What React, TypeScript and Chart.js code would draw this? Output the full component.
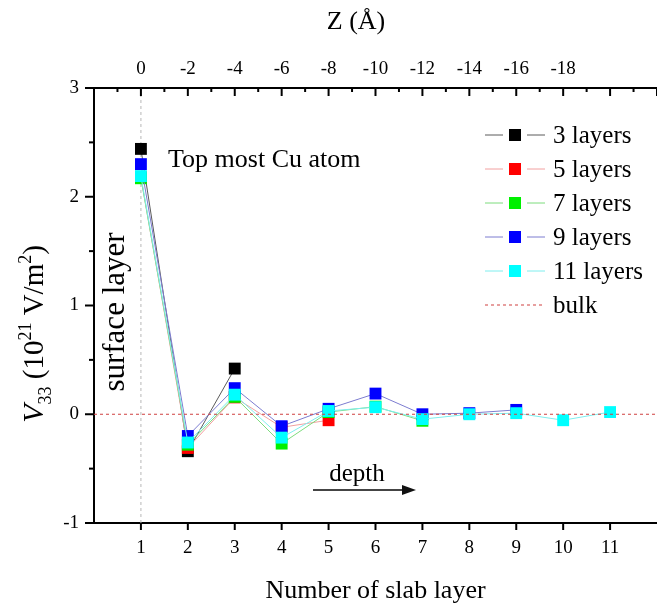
import React, { useEffect, useRef } from "react";
import { Chart, registerables } from "chart.js";

Chart.register(...registerables);

// Slab layer index (1 = top-most Cu layer)
const layers = [1, 2, 3, 4, 5, 6, 7, 8, 9, 10, 11];

const seriesNames = ["3 layers", "5 layers", "7 layers", "9 layers", "11 layers"];

// V33 per layer, in units of 10^21 V/m^2
const v3 = [2.44, -0.34, 0.42];
const v5 = [2.18, -0.31, 0.155, -0.12, -0.055];
const v7 = [2.17, -0.28, 0.16, -0.27, 0.02, 0.07, -0.06];
const v9 = [2.3, -0.2, 0.24, -0.11, 0.05, 0.19, 0.0, 0.01, 0.04];
const v11 = [2.19, -0.26, 0.18, -0.215, 0.03, 0.065, -0.045, 0.0, 0.01, -0.055, 0.02];

const bulkValue = 0;

// Axis ticks
const layerTicks = [1, 2, 3, 4, 5, 6, 7, 8, 9, 10, 11];
const depthTicks = [0, -2, -4, -6, -8, -10, -12, -14, -16, -18];
const yTickLabels = [-1, 0, 1, 2, 3];

const markerColors = ["#000000", "#ff0000", "#00f000", "#0000ff", "#00ffff"];
const lineColors = ["#5a5a5a", "#f2a0a0", "#7ddc7d", "#7c7cd0", "#7eeeee"];

const SERIF = '"Liberation Serif", "Times New Roman", serif';

const seriesValues = [v3, v5, v7, v9, v11];

const decorPlugin = {
  id: "decor",
  beforeDatasetsDraw(chart: any) {
    const { ctx, chartArea, scales } = chart;
    const x1 = scales.x.getPixelForValue(1);
    ctx.save();
    ctx.strokeStyle = "#b8b8b8";
    ctx.lineWidth = 1;
    ctx.setLineDash([3, 3]);
    ctx.beginPath();
    ctx.moveTo(x1, chartArea.top);
    ctx.lineTo(x1, chartArea.bottom);
    ctx.stroke();
    ctx.restore();
  },
  afterDraw(chart: any) {
    const { ctx, chartArea, scales, data } = chart;
    const { left, right, top, bottom } = chartArea;
    ctx.save();
    ctx.strokeStyle = "#000";
    ctx.lineWidth = 2;
    ctx.setLineDash([]);

    // left axis ticks (outward), major on integers
    const ys = scales.y;
    for (let v = ys.min; v <= ys.max + 1e-9; v += 0.5) {
      const py = ys.getPixelForValue(v);
      const len = Math.abs(v - Math.round(v)) < 1e-6 ? 9 : 5;
      ctx.beginPath();
      ctx.moveTo(left - len, py);
      ctx.lineTo(left, py);
      ctx.stroke();
    }
    // bottom axis ticks (outward)
    for (const t of layerTicks) {
      const px = scales.x.getPixelForValue(t);
      ctx.beginPath();
      ctx.moveTo(px, bottom);
      ctx.lineTo(px, bottom + 7);
      ctx.stroke();
    }
    // top axis ticks (inward), major on even Z
    const zs = scales.x2;
    for (let z = zs.max; z >= zs.min; z -= 1) {
      const px = zs.getPixelForValue(z);
      const len = z % 2 === 0 ? 8 : 4;
      ctx.beginPath();
      ctx.moveTo(px, top);
      ctx.lineTo(px, top + len);
      ctx.stroke();
    }

    // legend: line – marker – line, with small gaps around the marker
    ctx.font = `25px ${SERIF}`;
    ctx.fillStyle = "#000";
    ctx.textAlign = "left";
    ctx.textBaseline = "middle";
    let rowY = 135;
    for (const ds of data.datasets) {
      if (!ds.legendLabel) continue;
      const hasMarker = ds.pointRadius > 0;
      ctx.save();
      ctx.strokeStyle = ds.borderColor;
      ctx.lineWidth = ds.borderWidth;
      ctx.setLineDash(ds.borderDash || []);
      ctx.beginPath();
      if (hasMarker) {
        ctx.moveTo(485, rowY);
        ctx.lineTo(503, rowY);
        ctx.moveTo(527, rowY);
        ctx.lineTo(545, rowY);
      } else {
        ctx.moveTo(485, rowY);
        ctx.lineTo(545, rowY);
      }
      ctx.stroke();
      ctx.restore();
      if (hasMarker) {
        ctx.fillStyle = ds.pointBackgroundColor;
        ctx.fillRect(509, rowY - 6, 12, 12);
      }
      ctx.fillStyle = "#000";
      ctx.fillText(ds.legendLabel, 553, rowY + 1);
      rowY += 34;
    }

    // annotations
    ctx.font = `26px ${SERIF}`;
    ctx.fillText("Top most Cu atom", 168, 160);

    ctx.save();
    ctx.translate(116, 312);
    ctx.rotate(-Math.PI / 2);
    ctx.font = `31px ${SERIF}`;
    ctx.textAlign = "center";
    ctx.fillText("surface layer", 0, 0);
    ctx.restore();

    ctx.font = `25px ${SERIF}`;
    ctx.textAlign = "center";
    ctx.fillText("depth", 357, 474);

    // depth arrow
    ctx.strokeStyle = "#444";
    ctx.lineWidth = 2;
    ctx.beginPath();
    ctx.moveTo(313, 490);
    ctx.lineTo(404, 490);
    ctx.stroke();
    ctx.fillStyle = "#111";
    ctx.beginPath();
    ctx.moveTo(416, 490);
    ctx.lineTo(402, 485);
    ctx.lineTo(402, 495);
    ctx.closePath();
    ctx.fill();

    // axis titles
    ctx.fillStyle = "#000";
    ctx.font = `26px ${SERIF}`;
    ctx.textAlign = "center";
    ctx.textBaseline = "alphabetic";
    ctx.fillText("Number of slab layer", (left + right) / 2, 598);
    ctx.fillText("Z (Å)", 356, 29);

    // y title: V33 (10^21 V/m^2)
    const pieces = [
      { t: "V", f: `italic 30px ${SERIF}`, dy: 0 },
      { t: "33", f: `18px ${SERIF}`, dy: 8 },
      { t: " (10", f: `29px ${SERIF}`, dy: 0 },
      { t: "21", f: `18px ${SERIF}`, dy: -12 },
      { t: " V/m", f: `29px ${SERIF}`, dy: 0 },
      { t: "2", f: `18px ${SERIF}`, dy: -12 },
      { t: ")", f: `29px ${SERIF}`, dy: 0 },
    ];
    let total = 0;
    const widths = pieces.map((p) => {
      ctx.font = p.f;
      const w = ctx.measureText(p.t).width;
      total += w;
      return w;
    });
    ctx.save();
    ctx.translate(43, 334);
    ctx.rotate(-Math.PI / 2);
    ctx.textAlign = "left";
    let cx = -total / 2;
    pieces.forEach((p, i) => {
      ctx.font = p.f;
      ctx.fillText(p.t, cx, p.dy);
      cx += widths[i];
    });
    ctx.restore();

    ctx.restore();
  },
};

export default function App() {
  const canvasRef = useRef<HTMLCanvasElement | null>(null);

  useEffect(() => {
    const canvas = canvasRef.current;
    if (!canvas) return;

    const seriesSets = seriesNames.map((name, i) => ({
      label: name,
      legendLabel: name,
      data: seriesValues[i].map((v, k) => ({ x: layers[k], y: v })),
      showLine: true,
      borderColor: lineColors[i],
      borderWidth: 1,
      pointStyle: "rect",
      pointRadius: 8.4,
      pointBorderWidth: 0,
      pointBackgroundColor: markerColors[i],
      pointBorderColor: markerColors[i],
      order: seriesNames.length - i,
      xAxisID: "x",
      yAxisID: "y",
    }));

    const bulkSet = {
      label: "bulk",
      legendLabel: "bulk",
      data: [
        { x: 0, y: bulkValue },
        { x: 12, y: bulkValue },
      ],
      showLine: true,
      borderColor: "#d04040",
      borderWidth: 1.2,
      borderDash: [3, 3],
      pointRadius: 0,
      order: -1,
      xAxisID: "x",
      yAxisID: "y",
    };

    const tickFont = { family: SERIF, size: 19 };

    const noHPad = (s: any) => {
      s.paddingLeft = 0;
      s.paddingRight = 0;
    };

    const chart = new Chart(canvas, {
      type: "scatter",
      data: { datasets: [...seriesSets, bulkSet] as any },
      plugins: [decorPlugin],
      options: {
        animation: false,
        responsive: false,
        maintainAspectRatio: false,
        layout: { padding: 0, autoPadding: false },
        plugins: {
          legend: { display: false },
          tooltip: { enabled: false },
        },
        scales: {
          x: {
            type: "linear",
            position: "bottom",
            min: 0,
            max: 12,
            grid: { display: false, drawTicks: false },
            border: { display: true, color: "#000", width: 2 },
            ticks: {
              stepSize: 1,
              autoSkip: false,
              maxRotation: 0,
              color: "#000",
              font: tickFont,
              padding: 14,
              callback: (v: any) => (layerTicks.includes(Number(v)) ? String(v) : ""),
            },
            afterFit: (s: any) => {
              s.height = 85;
              noHPad(s);
            },
          },
          x2: {
            type: "linear",
            position: "top",
            min: -22,
            max: 2,
            reverse: true,
            grid: { display: false, drawTicks: false },
            border: { display: true, color: "#000", width: 2 },
            ticks: {
              stepSize: 2,
              autoSkip: false,
              maxRotation: 0,
              color: "#000",
              font: tickFont,
              padding: 8,
              callback: (v: any) => (depthTicks.includes(Number(v)) ? String(v) : ""),
            },
            afterFit: (s: any) => {
              s.height = 88;
              noHPad(s);
            },
          },
          y: {
            type: "linear",
            position: "left",
            min: -1,
            max: 3,
            grid: { display: false, drawTicks: false },
            border: { display: true, color: "#000", width: 2 },
            ticks: {
              stepSize: 0.5,
              autoSkip: false,
              color: "#000",
              font: tickFont,
              padding: 15,
              callback: (v: any) => (yTickLabels.includes(Number(v)) ? String(v) : ""),
            },
            afterFit: (s: any) => {
              s.width = 94;
              s.paddingTop = 0;
              s.paddingBottom = 0;
            },
          },
        },
      } as any,
    });

    return () => {
      chart.destroy();
    };
  }, []);

  return (
    <div style={{ position: "fixed", left: 0, top: 0, width: 657, height: 608, background: "#fff" }}>
      <canvas ref={canvasRef} width={657} height={608} style={{ width: 657, height: 608, display: "block" }} />
    </div>
  );
}
